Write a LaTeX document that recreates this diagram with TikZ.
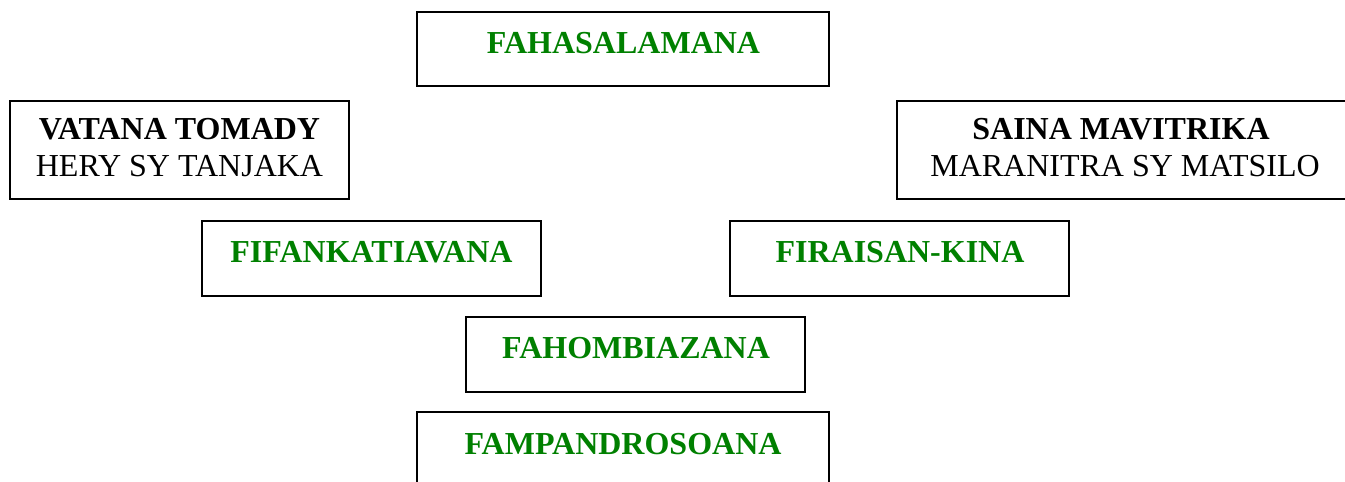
\documentclass[tikz,border=0pt]{standalone}
\usepackage{fontspec}
\setmainfont{Liberation Serif}
\definecolor{tgreen}{RGB}{0,128,0}
\tikzset{
  box/.style={draw=black, line width=2pt, rectangle, inner sep=0pt},
  gtxt/.style={font=\fontsize{32}{37}\selectfont\bfseries, text=tgreen, anchor=base, inner sep=0pt},
  btxt/.style={font=\fontsize{32}{37}\selectfont\bfseries, text=black, anchor=base, inner sep=0pt},
  rtxt/.style={font=\fontsize{32}{37}\selectfont, text=black, anchor=base, inner sep=0pt}
}
\begin{document}
\begin{tikzpicture}[x=1pt,y=-1pt]
\useasboundingbox (0,0) rectangle (1345,482);
\clip (0,0) rectangle (1345,482);
% boxes
\node[box, minimum width=412pt, minimum height=74pt] (b1) at (623,49) {};
\node[box, minimum width=339pt, minimum height=98pt] (b2) at (179.5,150) {};
\node[box, minimum width=452pt, minimum height=98pt] (b3) at (1123,150) {};
\node[box, minimum width=339pt, minimum height=75pt] (b4) at (371.5,258.5) {};
\node[box, minimum width=339pt, minimum height=75pt] (b5) at (899.5,258.5) {};
\node[box, minimum width=339pt, minimum height=75pt] (b6) at (635.5,354.5) {};
\node[box, minimum width=412pt, minimum height=75pt] (b7) at (623,449.5) {};
% texts
\node[gtxt] (t1) at (623.5,53) {FAHASALAMANA};
\node[btxt] (t2a) at (179.5,139) {VATANA TOMADY};
\node[rtxt] (t2b) at (179.5,176) {HERY SY TANJAKA};
\node[btxt] (t3a) at (1121,139) {SAINA MAVITRIKA};
\node[rtxt] (t3b) at (1125,176) {MARANITRA SY MATSILO};
\node[gtxt] (t4) at (371.5,262) {FIFANKATIAVANA};
\node[gtxt] (t5) at (900,262) {FIRAISAN-KINA};
\node[gtxt] (t6) at (636,358) {FAHOMBIAZANA};
\node[gtxt] (t7) at (623,454) {FAMPANDROSOANA};
\end{tikzpicture}
\end{document}
